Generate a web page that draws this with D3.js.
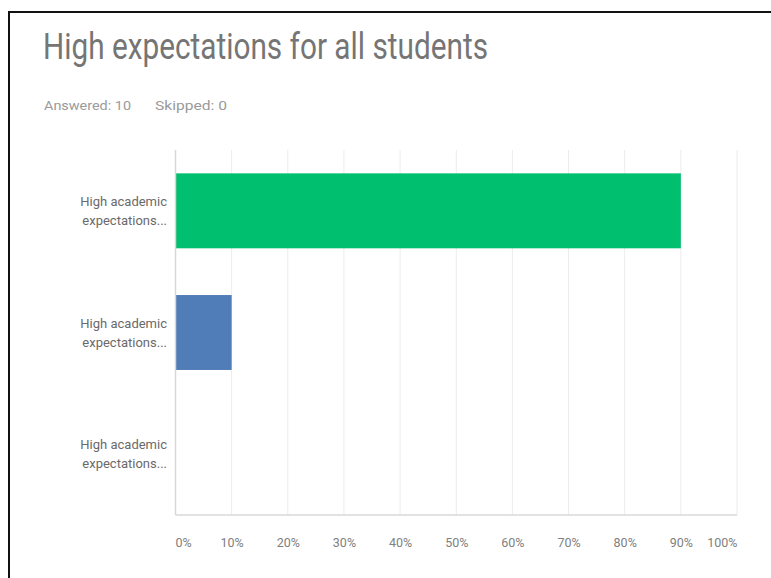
<!DOCTYPE html>
<html>
<head>
<meta charset="utf-8">
<script src="https://cdn.jsdelivr.net/npm/d3@7"></script>
<style>
  html, body { margin: 0; padding: 0; background: #fff; }
  svg { display: block; }
</style>
</head>
<body>
<svg id="chart" width="771" height="578"></svg>
<script>
// ---- data ----
const title = "High expectations for all students";
const answeredText = "Answered: 10";
const skippedText = "Skipped: 0";
const categories = ["High academic expectations... (1)", "High academic expectations... (2)", "High academic expectations... (3)"];
const categoryLines = [["High academic", "expectations..."], ["High academic", "expectations..."], ["High academic", "expectations..."]];
const values = [90, 10, 0];
const barColors = ["#00bf6f", "#507cb8", "#f4a13c"];
const tickValues = [0, 10, 20, 30, 40, 50, 60, 70, 80, 90, 100];

// ---- drawing ----
const svg = d3.select("#chart");
const font = "Roboto, 'Open Sans', sans-serif";

// frame (cropped screenshot border)
svg.append("line").attr("x1", 9).attr("x2", 771).attr("y1", 12).attr("y2", 12)
  .attr("stroke", "#111").attr("stroke-width", 2);
svg.append("line").attr("x1", 9).attr("x2", 9).attr("y1", 11).attr("y2", 578)
  .attr("stroke", "#111").attr("stroke-width", 2);

svg.append("text").attr("x", 43).attr("y", 59)
  .attr("font-family", font).attr("font-weight", 400).attr("font-size", 36)
  .attr("fill", "#757575")
  .attr("textLength", 445).attr("lengthAdjust", "spacingAndGlyphs")
  .text(title);

svg.append("text").attr("x", 44).attr("y", 110)
  .attr("font-family", font).attr("font-size", 13).attr("fill", "#9a9a9a")
  .attr("textLength", 87).attr("lengthAdjust", "spacingAndGlyphs")
  .text(answeredText);
svg.append("text").attr("x", 155).attr("y", 110)
  .attr("font-family", font).attr("font-size", 13).attr("fill", "#9a9a9a")
  .attr("textLength", 72).attr("lengthAdjust", "spacingAndGlyphs")
  .text(skippedText);

const x = d3.scaleLinear().domain([0, 100]).range([175.5, 737]);
const y = d3.scaleBand().domain(categories).range([150, 515]).paddingInner(0.384).paddingOuter(0.192);

// gridlines
svg.append("g").selectAll("line").data(tickValues.slice(1)).join("line")
  .attr("x1", d => x(d)).attr("x2", d => x(d))
  .attr("y1", 150).attr("y2", 515)
  .attr("stroke", "#ececec").attr("stroke-width", 1);

// bars
svg.append("g").selectAll("rect").data(values).join("rect")
  .attr("x", x(0))
  .attr("y", (d, i) => y(categories[i]))
  .attr("width", d => x(d) - x(0))
  .attr("height", y.bandwidth())
  .attr("fill", (d, i) => barColors[i]);

// axes lines
svg.append("line").attr("x1", x(0)).attr("x2", x(0)).attr("y1", 150).attr("y2", 515)
  .attr("stroke", "#d8d8d8").attr("stroke-width", 1.5);
svg.append("line").attr("x1", x(0)).attr("x2", x(100)).attr("y1", 515).attr("y2", 515)
  .attr("stroke", "#d8d8d8").attr("stroke-width", 1.5);

// x axis tick labels
const xAxis = d3.axisBottom(x).tickValues(tickValues).tickSize(0).tickPadding(0)
  .tickFormat(d => d + "%");
const gx = svg.append("g").attr("transform", "translate(0,534)").call(xAxis);
gx.select(".domain").remove();
gx.selectAll("text")
  .attr("font-family", font).attr("font-size", 12.5).attr("fill", "#808080")
  .attr("text-anchor", (d, i) => i === 0 ? "start" : (i === tickValues.length - 1 ? "end" : "middle"))
  .attr("dx", (d, i) => i === 0 ? "-0.5" : 0)
  .attr("dy", 0).attr("y", 13);

// y category labels
const gy = svg.append("g");
categories.forEach((c, i) => {
  const cy = y(c) + y.bandwidth() / 2;
  const t = gy.append("text").attr("text-anchor", "end")
    .attr("font-family", font).attr("font-size", 13).attr("fill", "#6a6a6a");
  categoryLines[i].forEach((ln, j) => {
    t.append("tspan").attr("x", 167).attr("y", cy - 5 + j * 19).text(ln);
  });
});
</script>
</body>
</html>
